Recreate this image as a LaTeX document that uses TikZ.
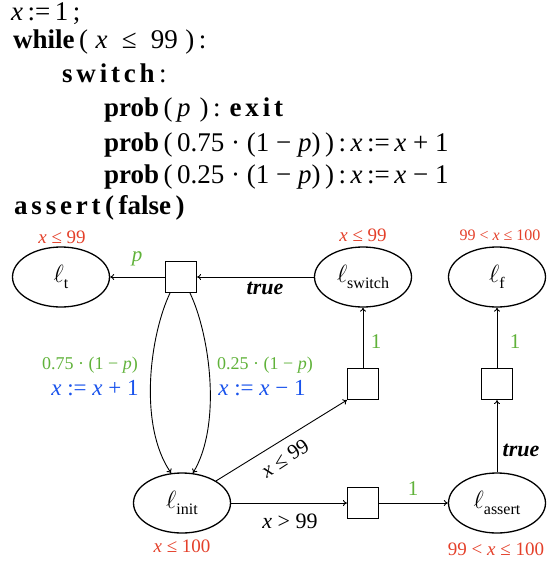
\documentclass[tikz,border=0pt]{standalone}
\usepackage{amsmath}
\usepackage{fontspec}
\setmainfont{Liberation Serif}
\newfontfamily\kwfont[LetterSpace=14]{Liberation Serif}
\usetikzlibrary{shapes.geometric,arrows.meta}
\definecolor{cred}{RGB}{228,64,42}
\definecolor{cgreen}{RGB}{96,178,58}
\definecolor{cblue}{RGB}{24,82,236}
\newcommand{\kwsp}[1]{{\kwfont\bfseries #1}}
\newcommand{\vx}{\textit{x}}
\newcommand{\vp}{\textit{p}}
\newcommand{\loc}[1]{$\ell$\raisebox{-0.25em}{\fontsize{16}{18}\selectfont #1}}
\begin{document}
\begin{tikzpicture}[x=1pt,y=-1pt,
  code/.style={anchor=base west,inner sep=0pt,font=\fontsize{27}{30}\selectfont},
  state/.style={ellipse,draw,line width=1.3pt,minimum width=97pt,minimum height=60pt,inner sep=0pt,font=\fontsize{26}{28}\selectfont},
  sqbox/.style={rectangle,draw,line width=1.1pt,minimum size=31pt,inner sep=0pt},
  arr/.style={line width=0.9pt,-{To[length=4pt,width=6pt]}},
  inv/.style={text=cred,inner sep=0pt,font=\fontsize{19}{20}\selectfont},
  prb/.style={text=cgreen,inner sep=0pt,font=\fontsize{21}{22}\selectfont},
  prbs/.style={text=cgreen,inner sep=0pt,font=\fontsize{18}{20}\selectfont},
  upd/.style={text=cblue,inner sep=0pt,font=\fontsize{23}{24}\selectfont},
  grd/.style={inner sep=0pt,font=\fontsize{22}{24}\selectfont}]
\useasboundingbox (0,0) rectangle (548,562);
% code
\node[code] (c1) at (11,20) {\vx{}\,:=\,1\,;};
\node[code] (c2) at (13,48) {\textbf{while}\,(\;\vx{}\; ≤\; 99\;)\,:};
\node[code] (c3) at (62,82) {\kwsp{switch}\,:};
\node[code] (c4) at (104,116) {\textbf{prob}\,(\,\vp\,\,)\,: \kwsp{exit}};
\node[code] (c5) at (104,151) {\textbf{prob}\,(\,0.75 · (1 − \vp)\,)\,:\,\vx{}\,:=\,\vx{} + 1};
\node[code] (c6) at (104,183) {\textbf{prob}\,(\,0.25 · (1 − \vp)\,)\,:\,\vx{}\,:=\,\vx{} − 1};
\node[code] (c7) at (14,214) {\kwsp{assert}\,\textbf{(\,false\,)}};
% states
\node[state] (lt) at (61,277) {\loc{t}};
\node[state] (lsw) at (363,277) {\loc{switch}};
\node[state] (lf) at (497,277) {\loc{f}};
\node[state] (li) at (182,503) {\loc{init}};
\node[state] (la) at (497,503) {\loc{assert}};
% boxes
\node[sqbox] (b1) at (181,277) {};
\node[sqbox] (b2) at (363,384) {};
\node[sqbox] (b3) at (497,384) {};
\node[sqbox] (b4) at (363,503) {};
% invariants
\node[inv] (i1) at (62,237) {\vx{} ≤ 99};
\node[inv] (i2) at (363,235) {\vx{} ≤ 99};
\node[inv,font=\fontsize{16}{18}\selectfont] (i3) at (500,235) {99 < \vx{} ≤ 100};
\node[inv] (i4) at (182,546) {\vx{} ≤ 100};
\node[inv] (i5) at (496,549) {99 < \vx{} ≤ 100};
% edges
\draw[arr] (lsw.west) -- (b1.east);
\node[grd] (tr1) at (265,288) {\textbf{\textit{true}}};
\draw[arr] (b1.west) -- (lt.east);
\node[prb] (pp) at (137,259) {\vp};
\draw[arr] (b2.north) -- (lsw.south);
\node[prb] (o1) at (376,342) {1};
\draw[arr] (b3.north) -- (lf.south);
\node[prb] (o2) at (515,342) {1};
\draw[arr] (la.north) -- (b3.south);
\node[grd] (tr2) at (521,450) {\textbf{\textit{true}}};
\draw[arr] (li.east) -- (b4.west);
\node[grd] (g1) at (290,521) {\vx{} > 99};
\draw[arr] (b4.east) -- (la.west);
\node[prb] (o3) at (413,489) {1};
\draw[arr] (li.33) -- (b2.south west);
\node[grd,rotate=33,font=\fontsize{21}{22}\selectfont] (g2) at (285,458) {\vx{} ≤ 99};
% loops
\draw[arr] ([xshift=-11pt]b1.south) .. controls (150,335) and (138,425) .. (li.110);
\draw[arr] ([xshift=9pt]b1.south) .. controls (210,335) and (222,425) .. (li.70);
\node[prbs] (q1) at (90,365) {0.75 · (1 − \vp)};
\node[upd] (u1) at (95,388) {\vx{} := \vx{} + 1};
\node[prbs] (q2) at (265,365) {0.25 · (1 − \vp)};
\node[upd] (u2) at (262,388) {\vx{} := \vx{} − 1};
\end{tikzpicture}
\end{document}
